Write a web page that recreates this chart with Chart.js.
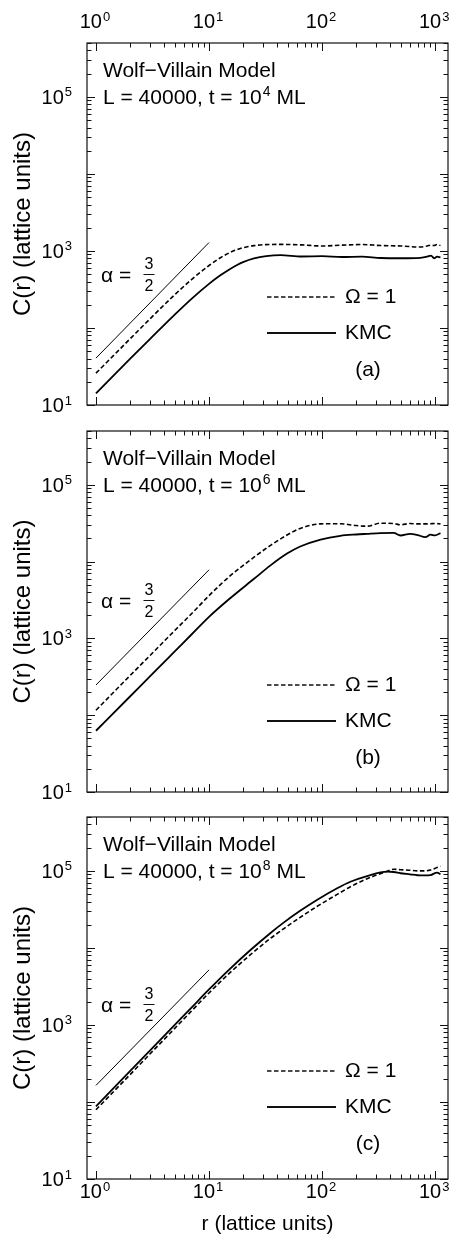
<!DOCTYPE html>
<html>
<head>
<meta charset="utf-8">
<script src="https://cdn.jsdelivr.net/npm/chart.js@4.4.1/dist/chart.umd.min.js"></script>
<style>
  html, body { margin: 0; padding: 0; background: #fff; }
  .panel { position: absolute; left: 0; width: 452px; }
</style>
</head>
<body>
<div class="panel" style="top:0;height:418px"><canvas id="chartA"></canvas></div>
<div class="panel" style="top:418px;height:387px"><canvas id="chartB"></canvas></div>
<div class="panel" style="top:805px;height:431px"><canvas id="chartC"></canvas></div>
<script>
// --- data: r (lattice units) -> C(r) ---

// (a) t = 10^4 ML
const rA     = [1, 2, 3, 5, 7, 10, 12.6, 15, 17.7, 20, 25, 32, 43, 66, 100, 150, 225, 330, 500, 740, 850, 920, 980, 1040, 1115];
const omegaA = [25.9, 72.1, 131, 272, 425, 647, 815, 940, 1042, 1102, 1172, 1208, 1216, 1197, 1159, 1189, 1211, 1175, 1159, 1122, 1160, 1189, 1175, 1211, 1175];
const kmcA   = [14.2, 39.6, 71.6, 150, 239, 374, 482, 571, 658, 716, 800, 857, 883, 847, 855, 834, 843, 809, 803, 813, 841, 871, 803, 841, 822];

// (b) t = 10^6 ML
const rB     = [1, 2, 3, 5, 7, 10, 15, 25, 35, 49, 64, 97, 145, 200, 250, 328, 430, 494, 600, 700, 820, 910, 1000, 1115];
const omegaB = [116, 327, 596, 1274, 2089, 3597, 6310, 11376, 16218, 22131, 26915, 30903, 31046, 29376, 28840, 31550, 31261, 30061, 31261, 30903, 30903, 31046, 31261, 30903];
const kmcB   = [62.7, 175, 320, 682, 1122, 1905, 3228, 5957, 8913, 12677, 15704, 19320, 21627, 22491, 22909, 23388, 23550, 21827, 22909, 22131, 20749, 22387, 21878, 23442];

// (c) t = 10^8 ML
const rC     = [1, 2, 3, 5, 7, 10, 15, 23, 35, 46, 64, 90, 136, 178, 250, 376, 430, 494, 600, 695, 800, 910, 1040, 1115];
const omegaC = [79.3, 226, 419, 908, 1514, 2600, 4624, 8054, 13305, 17824, 24889, 34435, 49431, 62087, 78886, 98620, 104713, 103514, 101859, 100000, 100000, 102329, 110407, 114815];
const kmcC   = [87.9, 251, 464, 1007, 1679, 2884, 5188, 9247, 15631, 21429, 30269, 41879, 59429, 72111, 85507, 97499, 96605, 93111, 90157, 87700, 87096, 88105, 95060, 90157];

// alpha = 3/2 guide line, drawn from r = 1 to r = 10
const slopeR = [1, 10];
const slopeA = [40.6, 1285];
const slopeB = [247, 7800];
const slopeC = [164, 5180];

// axis ticks
const xDecades = [1, 10, 100, 1000];
const yDecades = [10, 100, 1000, 10000, 100000];
const yLabelled = [1, 3, 5];
const xLabelled = [0, 1, 2, 3];

const FONT = '"Liberation Sans", Arial, Helvetica, sans-serif';
Chart.defaults.color = '#000';
Chart.defaults.font.family = FONT;

// "10" with a raised exponent
function pow10(ctx, exp, x, y, align) {
    ctx.font = `20px ${FONT}`;
    const wb = ctx.measureText('10').width;
    ctx.font = `13px ${FONT}`;
    const ws = ctx.measureText(String(exp)).width;
    const total = wb + 1 + ws;
    const x0 = align === 'right' ? x - total : x - total / 2;
    ctx.textAlign = 'left';
    ctx.textBaseline = 'alphabetic';
    ctx.font = `20px ${FONT}`;
    ctx.fillText('10', x0, y);
    ctx.font = `13px ${FONT}`;
    ctx.fillText(String(exp), x0 + wb + 1, y - 7.5);
}

// frame, inward ticks, tick labels and the in-plot annotations
const decor = {
    id: 'decor',
    afterDraw(chart, args, o) {
        const { ctx, chartArea: a, scales: { x, y } } = chart;
        ctx.save();
        ctx.strokeStyle = '#111';
        ctx.fillStyle = '#000';

        ctx.lineWidth = 1.2;
        ctx.strokeRect(a.left, a.top, a.right - a.left, a.bottom - a.top);

        ctx.lineWidth = 1;
        ctx.beginPath();
        xDecades.forEach(d => {
            for (let m = 1; m <= 9; m++) {
                const v = m * d;
                if (v < x.min || v > x.max) continue;
                const px = Math.round(x.getPixelForValue(v)) + 0.5;
                const len = m === 1 ? 8 : 4.5;
                ctx.moveTo(px, a.bottom); ctx.lineTo(px, a.bottom - len);
                ctx.moveTo(px, a.top); ctx.lineTo(px, a.top + len);
            }
        });
        yDecades.forEach(d => {
            for (let m = 1; m <= 9; m++) {
                const v = m * d;
                if (v < y.min || v > y.max) continue;
                const py = Math.round(y.getPixelForValue(v)) + 0.5;
                const len = m === 1 ? 8 : 4.5;
                ctx.moveTo(a.left, py); ctx.lineTo(a.left + len, py);
                ctx.moveTo(a.right, py); ctx.lineTo(a.right - len, py);
            }
        });
        ctx.stroke();

        // tick labels
        yLabelled.forEach(e => pow10(ctx, e, 72, y.getPixelForValue(10 ** e) + 7, 'right'));
        if (o.xLabels === 'top') {
            xLabelled.forEach(e => pow10(ctx, e, x.getPixelForValue(10 ** e) - 1, a.top - 15));
        } else if (o.xLabels === 'bottom') {
            xLabelled.forEach(e => pow10(ctx, e, x.getPixelForValue(10 ** e) - 1, a.bottom + 19));
        }

        // panel header
        ctx.textAlign = 'left';
        ctx.textBaseline = 'alphabetic';
        ctx.font = `21px ${FONT}`;
        ctx.fillText('Wolf\u2212Villain Model', 103, a.top + 34);
        const head = 'L = 40000, t = 10';
        ctx.fillText(head, 103, a.top + 61);
        let hx = 103 + ctx.measureText(head).width + 1;
        ctx.font = `14px ${FONT}`;
        ctx.fillText(o.timeExp, hx, a.top + 53);
        hx += ctx.measureText(o.timeExp).width;
        ctx.font = `21px ${FONT}`;
        ctx.fillText(' ML', hx, a.top + 61);

        // alpha = 3/2
        const ay = a.top + o.alphaY;
        ctx.textBaseline = 'middle';
        ctx.fillText('\u03B1 =', 101, ay);
        ctx.font = `16px ${FONT}`;
        ctx.textAlign = 'center';
        ctx.fillText('3', 149, ay - 11);
        ctx.fillText('2', 149, ay + 11);
        ctx.beginPath();
        ctx.lineWidth = 1;
        ctx.moveTo(143.5, ay - 1.5); ctx.lineTo(154.5, ay - 1.5);
        ctx.stroke();

        // legend
        const ly1 = a.top + 254, ly2 = a.top + 290;
        ctx.lineWidth = 1.6;
        ctx.setLineDash([4.5, 2.5]);
        ctx.beginPath(); ctx.moveTo(267, ly1); ctx.lineTo(336, ly1); ctx.stroke();
        ctx.setLineDash([]);
        ctx.lineWidth = 1.8;
        ctx.beginPath(); ctx.moveTo(267, ly2); ctx.lineTo(336, ly2); ctx.stroke();
        ctx.font = `21px ${FONT}`;
        ctx.textAlign = 'left';
        ctx.fillText('\u03A9 = 1', 345, ly1);
        ctx.fillText('KMC', 345, ly2);
        ctx.textAlign = 'center';
        ctx.fillText(o.letter, 368, a.top + 327);

        ctx.restore();
    }
};

function makePanel(id, r, omega, kmc, slope, deco, xPos, xHeight, padding, xTitle) {
    return new Chart(document.getElementById(id), {
        type: 'line',
        data: {
            datasets: [
                {
                    label: 'alpha = 3/2',
                    data: slopeR.map((v, i) => ({ x: v, y: slope[i] })),
                    borderColor: '#000',
                    borderWidth: 1,
                    pointRadius: 0
                },
                {
                    label: '\u03A9 = 1',
                    data: r.map((v, i) => ({ x: v, y: omega[i] })),
                    borderColor: '#000',
                    borderWidth: 1.6,
                    borderDash: [4.5, 2.5],
                    pointRadius: 0,
                    cubicInterpolationMode: 'monotone'
                },
                {
                    label: 'KMC',
                    data: r.map((v, i) => ({ x: v, y: kmc[i] })),
                    borderColor: '#000',
                    borderWidth: 1.8,
                    pointRadius: 0,
                    cubicInterpolationMode: 'monotone'
                }
            ]
        },
        options: {
            responsive: true,
            maintainAspectRatio: false,
            animation: false,
            layout: { padding: padding },
            plugins: {
                legend: { display: false },
                tooltip: { enabled: false },
                decor: deco
            },
            scales: {
                x: {
                    type: 'logarithmic',
                    position: xPos,
                    min: 0.833,
                    max: 1300,
                    ticks: { display: false },
                    grid: { display: false },
                    border: { display: false },
                    title: {
                        display: !!xTitle,
                        text: xTitle || '',
                        font: { size: 21, lineHeight: 1 },
                        padding: { top: 0, bottom: 1 }
                    },
                    afterFit: s => { s.height = xHeight; }
                },
                y: {
                    type: 'logarithmic',
                    min: 10,
                    max: 5e5,
                    ticks: { display: false },
                    grid: { display: false },
                    border: { display: false },
                    title: {
                        display: true,
                        text: 'C(r) (lattice units)',
                        font: { size: 24, lineHeight: 1 },
                        padding: { top: 11, bottom: 0 }
                    },
                    afterFit: s => { s.width = 87; }
                }
            }
        },
        plugins: [decor]
    });
}

makePanel('chartA', rA, omegaA, kmcA, slopeA,
    { letter: '(a)', timeExp: '4', alphaY: 233, xLabels: 'top' },
    'top', 43, { top: 0, bottom: 13, left: 0, right: 4 });
makePanel('chartB', rB, omegaB, kmcB, slopeB,
    { letter: '(b)', timeExp: '6', alphaY: 171, xLabels: 'none' },
    'bottom', 13, { top: 13, bottom: 0, left: 0, right: 4 });
makePanel('chartC', rC, omegaC, kmcC, slopeC,
    { letter: '(c)', timeExp: '8', alphaY: 189, xLabels: 'bottom' },
    'bottom', 57, { top: 12, bottom: 0, left: 0, right: 4 }, 'r (lattice units)');
</script>
</body>
</html>
